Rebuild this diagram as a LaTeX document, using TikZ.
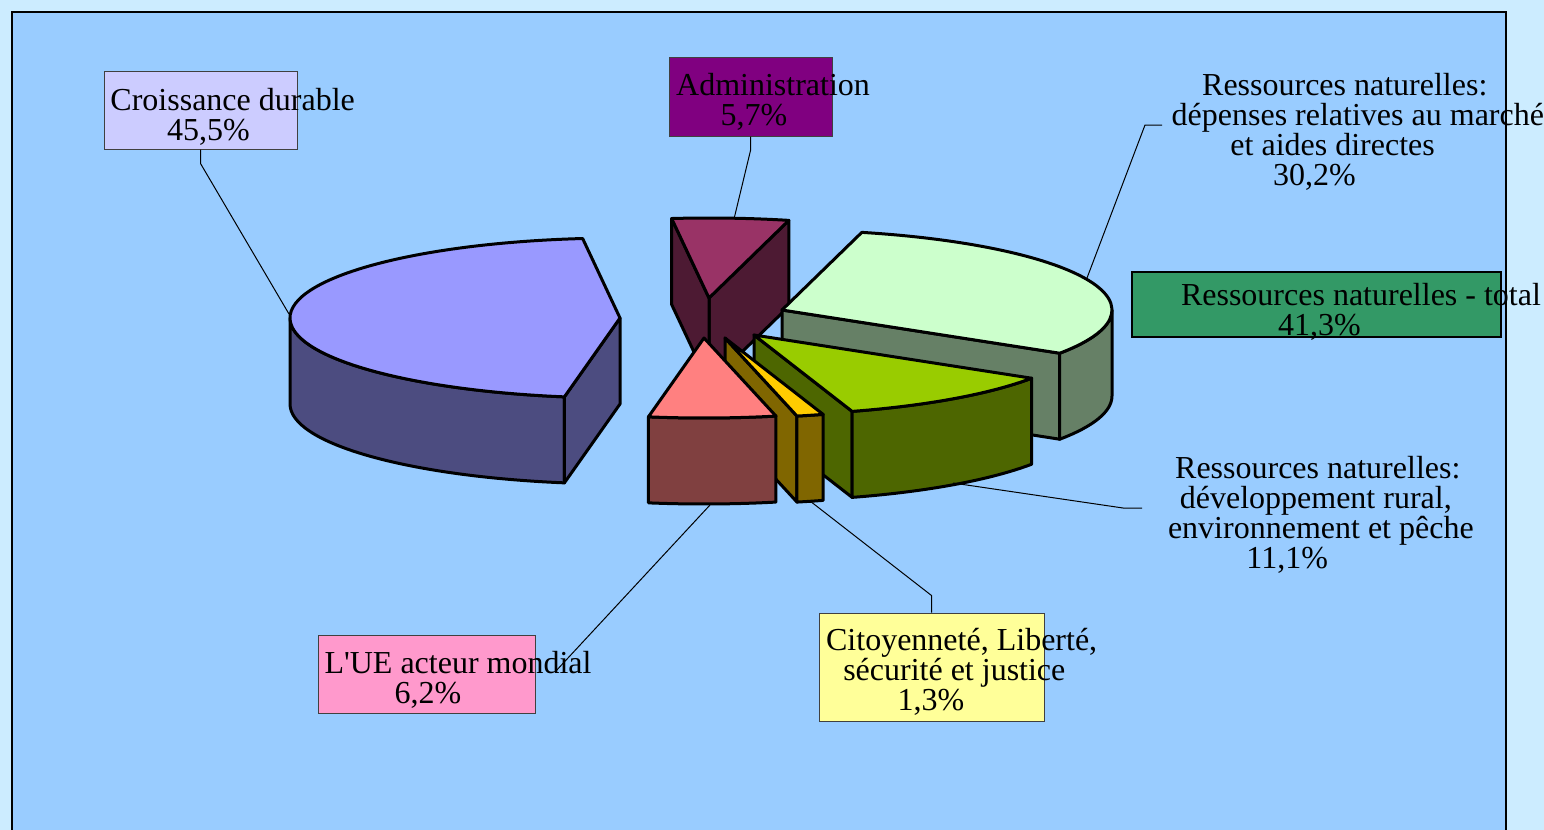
\documentclass[tikz,border=0pt]{standalone}
\usepackage{fontspec}
\setmainfont{Liberation Serif}[Ligatures=TeXOff]

\definecolor{pagebg}{HTML}{CCECFF}
\definecolor{plotbg}{HTML}{99CCFF}
\definecolor{violtop}{HTML}{9999FF}
\definecolor{violside}{HTML}{4C4C80}
\definecolor{admtop}{HTML}{993366}
\definecolor{admside}{HTML}{4D1A33}
\definecolor{grtop}{HTML}{CCFFCC}
\definecolor{grside}{HTML}{668066}
\definecolor{ygtop}{HTML}{99CC00}
\definecolor{ygside}{HTML}{4D6600}
\definecolor{yeltop}{HTML}{FFCC00}
\definecolor{yelside}{HTML}{806600}
\definecolor{pktop}{HTML}{FF8080}
\definecolor{pkside}{HTML}{804040}
\definecolor{cdfill}{HTML}{CCCCFF}
\definecolor{admfill}{HTML}{800080}
\definecolor{totfill}{HTML}{339966}
\definecolor{uefill}{HTML}{FF99CC}
\definecolor{citfill}{HTML}{FFFF99}

% one line of a label, set as if narrower
\newsavebox\pptbox
\newcommand\pptline[1]{\sbox\pptbox{#1}\hbox to 0.7\wd\pptbox{\usebox\pptbox\hss}}
\newcommand\lblfont{\fontsize{16}{15}\selectfont}

% faces of a slice: apex, angles, colour
\newcommand\slicetop[4]{\filldraw[face,fill=#4] (#1) -- ++(#2:330 and 80)
  arc[start angle=#2,end angle=#3,x radius=330,y radius=80] -- cycle;}
\newcommand\slicerim[4]{\filldraw[face,fill=#4] (#1) ++(#2:330 and 80)
  arc[start angle=#2,end angle=#3,x radius=330,y radius=80] -- ++(0,-86)
  arc[start angle=#3,end angle=#2,x radius=330,y radius=80] -- cycle;}
\newcommand\slicecut[3]{\filldraw[face,fill=#3] (#1) -- ++(#2:330 and 80)
  -- ++(0,-86) -- ++(#2+180:330 and 80) -- cycle;}

\begin{document}
\lineskiplimit=-20pt
\begin{tikzpicture}
  [x=0.5pt,y=0.5pt,
   face/.style={draw=black,line width=1.5pt,line join=round},
   leader/.style={draw=black,line width=0.5pt},
   lblbox/.style={draw=black!75,line width=0.5pt,inner sep=0pt},
   lbltext/.style={align=center,inner sep=0pt,anchor=base,font=\lblfont}]

  \useasboundingbox (0,0) rectangle (1544,-830);
  \fill[pagebg] (0,0) rectangle (1544,-830);
  \filldraw[fill=plotbg,draw=black,line width=0.7pt] (12,-12) rectangle (1506,-845);

  % apexes of the slices
  \coordinate (adm) at (709,-298);
  \coordinate (viol) at (620,-318);
  \coordinate (gr) at (782,-310);
  \coordinate (yg) at (754,-335);
  \coordinate (yel) at (725,-338);
  \coordinate (pk) at (704,-338);

  % Administration
  \slicecut{adm}{76}{admside}
  \slicecut{adm}{96.5}{admside}
  \slicetop{adm}{76}{96.5}{admtop}
  % Croissance durable
  \slicerim{viol}{180}{260.3}{violside}
  \slicecut{viol}{260.3}{violside}
  \slicetop{viol}{96.5}{260.3}{violtop}
  % marche et aides directes
  \slicecut{gr}{-32.7}{grside}
  \slicerim{gr}{-32.7}{0}{grside}
  \slicetop{gr}{-32.7}{76}{grtop}
  % developpement rural
  \slicecut{yg}{287.3}{ygside}
  \slicerim{yg}{287.3}{327.3}{ygside}
  \slicetop{yg}{287.3}{327.3}{ygtop}
  % citoyennete
  \slicecut{yel}{282.6}{yelside}
  \slicerim{yel}{282.6}{287.3}{yelside}
  \slicetop{yel}{282.6}{287.3}{yeltop}
  % UE acteur mondial
  \slicerim{pk}{260.3}{282.6}{pkside}
  \slicetop{pk}{260.3}{282.6}{pktop}

  % label boxes
  \node[lblbox,fill=cdfill,minimum width=96.5pt,minimum height=39pt] (cdbox) at (200.5,-110) {};
  \node[lblbox,fill=admfill,minimum width=81.5pt,minimum height=39.5pt] (admbox) at (750.5,-96.5) {};
  \node[lblbox,fill=totfill,draw=black,line width=1pt,minimum width=184.5pt,minimum height=32.5pt] (totbox) at (1316.5,-304.5) {};
  \node[lblbox,fill=uefill,minimum width=108.5pt,minimum height=39pt] (uebox) at (426.5,-674) {};
  \node[lblbox,fill=citfill,minimum width=112.5pt,minimum height=54pt] (citbox) at (931.5,-667) {};

  % leader lines
  \coordinate (cdtip) at (289,-314);
  \coordinate (admtip) at (734,-219);
  \coordinate (t302in) at (1162,-125);
  \coordinate (grtip) at (1087,-278);
  \coordinate (t111in) at (1142,-508);
  \coordinate (ygtip) at (953,-483);
  \coordinate (uetip) at (710,-505);
  \coordinate (ueend) at (555,-672);
  \coordinate (cittip) at (810,-501);
  \draw[leader] (cdbox.south) -- ++(0,-14) -- (cdtip);
  \draw[leader] (admbox.south) -- ++(0,-14) -- (admtip);
  \draw[leader] (t302in) -- ++(-17,0) -- (grtip);
  \draw[leader] (t111in) -- ++(-19,0) -- (ygtip);
  \draw[leader] (uetip) -- (ueend);
  \draw[leader] (citbox.north) -- ++(0,17) -- (cittip);

  % texts (placed by the baseline of their last line)
  \node[lbltext] (cdtxt) at (196,-140) {\pptline{Croissance durable}\\\pptline{45,5\%}};
  \node[lbltext] (admtxt) at (744,-125) {\pptline{Administration}\\\pptline{5,7\%}};
  \node[lbltext] (t302) at (1302,-185) {\pptline{Ressources naturelles:}\\\pptline{dépenses relatives au marché}\\\pptline{et aides directes}\\\pptline{30,2\%}};
  \node[lbltext] (tottxt) at (1307,-335) {\pptline{Ressources naturelles - total}\\\pptline{41,3\%}};
  \node[lbltext] (t111) at (1275,-568) {\pptline{Ressources naturelles:}\\\pptline{développement rural,}\\\pptline{environnement et pêche}\\\pptline{11,1\%}};
  \node[lbltext] (uetxt) at (418,-703) {\pptline{L'UE acteur mondial}\\\pptline{6,2\%}};
  \node[lbltext] (cittxt) at (921,-710) {\pptline{Citoyenneté, Liberté,}\\\pptline{sécurité et justice}\\\pptline{1,3\%}};
\end{tikzpicture}
\end{document}
